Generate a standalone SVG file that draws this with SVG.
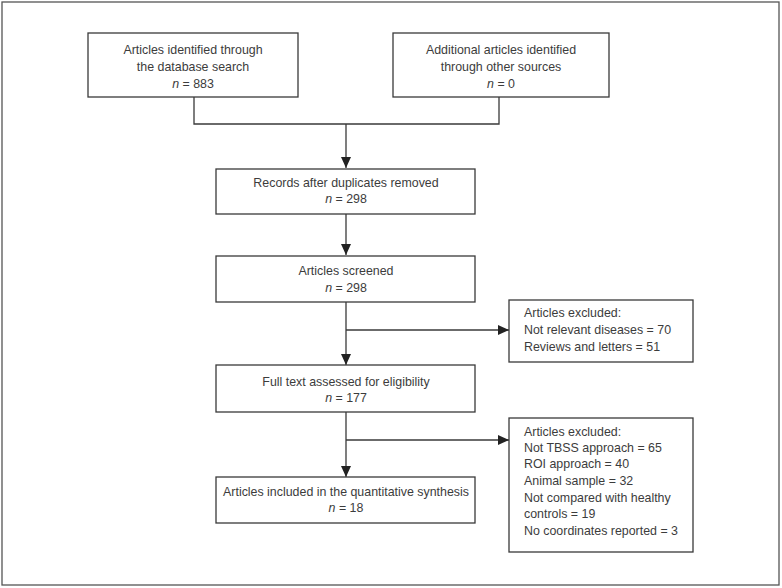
<svg xmlns="http://www.w3.org/2000/svg" width="782" height="588" viewBox="0 0 782 588">
<style>
.box{fill:#fff;stroke:#3a3a3a;stroke-width:1.3}
.t{font-family:"Liberation Sans",Arial,sans-serif;font-size:12.4px;fill:#3c3c3c}
.c{text-anchor:middle}
.ln{fill:none;stroke:#3a3a3a;stroke-width:1.3}
.i{font-style:italic}
</style>
<defs>
<marker id="ah" markerUnits="userSpaceOnUse" markerWidth="11" markerHeight="10" viewBox="0 0 11 10" refX="11" refY="5" orient="auto">
<path d="M0,0 L11,5 L0,10 Z" fill="#222"/>
</marker>
</defs>
<rect x="2" y="2" width="777" height="583" fill="#fff" stroke="#555" stroke-width="1.3"/>
<g id="connectors">
<path class="ln" d="M194,97 V124 H499 V97"/>
<path class="ln" d="M346,124 V168" marker-end="url(#ah)"/>
<path class="ln" d="M346,214 V255" marker-end="url(#ah)"/>
<path class="ln" d="M346,302 V365" marker-end="url(#ah)"/>
<path class="ln" d="M346,330 H509" marker-end="url(#ah)"/>
<path class="ln" d="M346,412 V477" marker-end="url(#ah)"/>
<path class="ln" d="M346,440 H509" marker-end="url(#ah)"/>
</g>
<g id="n1">
<rect class="box" x="88" y="33" width="210" height="64"/>
<text class="t c" x="193" y="54">Articles identified through</text>
<text class="t c" x="193" y="71">the database search</text>
<text class="t c" x="193" y="88"><tspan class="i">n</tspan> = 883</text>
</g>
<g id="n2">
<rect class="box" x="393" y="33" width="216" height="64"/>
<text class="t c" x="501" y="54">Additional articles identified</text>
<text class="t c" x="501" y="71">through other sources</text>
<text class="t c" x="501" y="88"><tspan class="i">n</tspan> = 0</text>
</g>
<g id="n3">
<rect class="box" x="216" y="169" width="259" height="45"/>
<text class="t c" x="346" y="187">Records after duplicates removed</text>
<text class="t c" x="346" y="203"><tspan class="i">n</tspan> = 298</text>
</g>
<g id="n4">
<rect class="box" x="216" y="256" width="259" height="46"/>
<text class="t c" x="346" y="275">Articles screened</text>
<text class="t c" x="346" y="292"><tspan class="i">n</tspan> = 298</text>
</g>
<g id="n5">
<rect class="box" x="509" y="300" width="184" height="62"/>
<text class="t" x="524" y="317">Articles excluded:</text>
<text class="t" x="524" y="334">Not relevant diseases = 70</text>
<text class="t" x="524" y="351">Reviews and letters = 51</text>
</g>
<g id="n6">
<rect class="box" x="216" y="365" width="259" height="47"/>
<text class="t c" x="346" y="386">Full text assessed for eligibility</text>
<text class="t c" x="346" y="402"><tspan class="i">n</tspan> = 177</text>
</g>
<g id="n7">
<rect class="box" x="509" y="418" width="184" height="134"/>
<text class="t" x="524" y="436">Articles excluded:</text>
<text class="t" x="524" y="452">Not TBSS approach = 65</text>
<text class="t" x="524" y="468">ROI approach = 40</text>
<text class="t" x="524" y="485">Animal sample = 32</text>
<text class="t" x="524" y="502">Not compared with healthy</text>
<text class="t" x="524" y="518">controls = 19</text>
<text class="t" x="524" y="535">No coordinates reported = 3</text>
</g>
<g id="n8">
<rect class="box" x="216" y="477" width="259" height="46"/>
<text class="t c" x="346" y="496">Articles included in the quantitative synthesis</text>
<text class="t c" x="346" y="512"><tspan class="i">n</tspan> = 18</text>
</g>
</svg>
